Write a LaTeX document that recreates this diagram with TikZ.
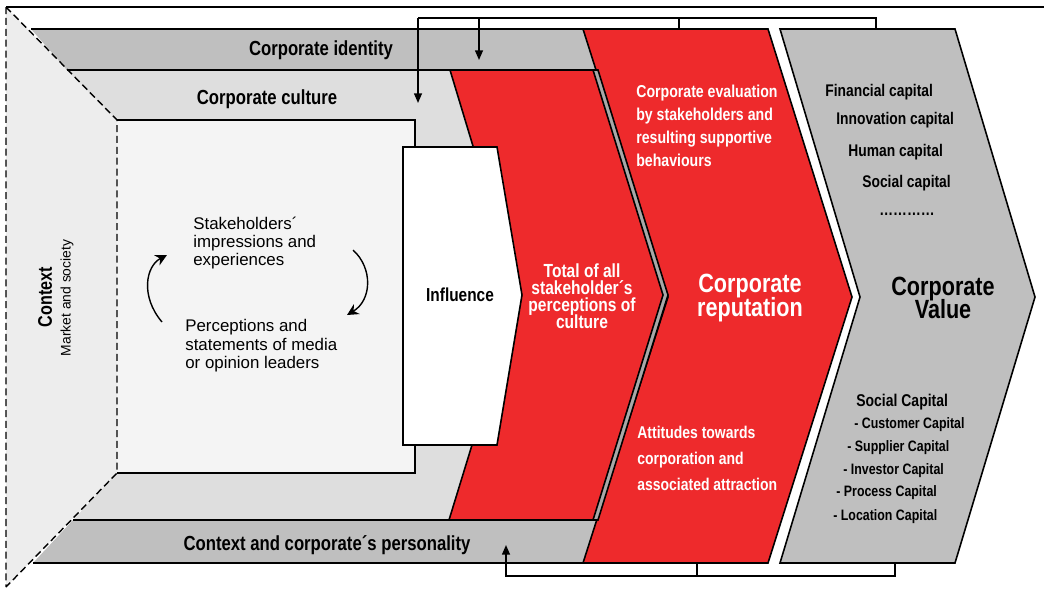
\documentclass[tikz,border=0pt]{standalone}
\usepackage{fontspec}
\setmainfont{Liberation Sans}
\newfontfamily\condfont[FakeStretch=0.82]{Liberation Sans}
\usetikzlibrary{arrows.meta}
\definecolor{repred}{HTML}{EE2A2C}
\definecolor{bandgray}{HTML}{BFBFBF}
\definecolor{cultgray}{HTML}{DEDEDE}
\definecolor{innergray}{HTML}{F4F4F4}
\definecolor{ctxgray}{HTML}{EDEDED}
\definecolor{slivergray}{HTML}{A8A8A8}
\newcommand{\tightlines}{\lineskiplimit=-20pt\relax}
\begin{document}
\begin{tikzpicture}[x=0.02cm,y=-0.02cm,
  edge/.style={line width=0.9pt},
  dashedge/.style={line width=0.8pt,dash pattern=on 4pt off 2.2pt},
  chev/.style={draw=black,line width=0.9pt,line join=miter},
  tip/.style={-{Triangle[length=5.5pt,width=4.5pt]}},
  cycarrow/.style={line width=0.8pt,-{Stealth[length=6.5pt,width=6.5pt]}},
  bandlabel/.style={inner sep=0,font=\condfont\bfseries\fontsize{11.6}{12}\selectfont},
  whitetxt/.style={inner sep=0,text=white,align=left,font=\condfont\bfseries\fontsize{9.8}{13.1}\selectfont},
  captxt/.style={inner sep=0,anchor=west,font=\condfont\bfseries\fontsize{9.6}{11}\selectfont},
  subcap/.style={inner sep=0,anchor=west,font=\condfont\bfseries\fontsize{8.6}{10}\selectfont},
  bigtxt/.style={inner sep=0,align=center,font=\condfont\bfseries\fontsize{15}{13.2}\selectfont\tightlines},
  plaintxt/.style={inner sep=0,anchor=west,align=left,font=\fontsize{9.6}{10.5}\selectfont}]
\useasboundingbox (0,0) rectangle (1044,589);
\pgfmathsetmacro{\ktop}{18}
\pgfmathsetmacro{\kbot}{576}
% context area and bands
\fill[ctxgray] (6,7) -- (117,120) -- (117,473) -- (6,587) -- cycle;
\fill[cultgray] (67,70) -- (600,70) -- (600,520) -- (73,520) -- (117,473) -- (117,120) -- cycle;
\fill[innergray] (117,120) rectangle (415,473);
\draw[edge] (117,120) -- (415,120) -- (415,473) -- (117,473);
\fill[bandgray] (31,29) -- (600,29) -- (600,70) -- (67,70) -- cycle;
\draw[edge] (31,29) -- (600,29) (67,70) -- (600,70);
\fill[bandgray] (73,520) -- (600,520) -- (600,563) -- (33,563) -- cycle;
\draw[edge] (73,520) -- (600,520) (33,563) -- (600,563);
\draw[edge] (6,7) -- (1044,7);
\draw[dashedge] (6,7) -- (6,587) (6,7) -- (117,120) -- (117,473) -- (6,587);
% chevrons
\draw[chev,fill=repred] (583,29) -- (768,29) -- (852,297) -- (768,563) -- (583,563) -- (668,297) -- cycle;
\draw[chev,fill=slivergray] (455,70) -- (598,70) -- (668,295) -- (598,520) -- (454,520) -- (523,295) -- cycle;
\draw[chev,fill=repred] (450,70) -- (593,70) -- (663,295) -- (593,520) -- (449,520) -- (518,295) -- cycle;
\draw[chev,fill=white] (403,147) -- (497,147) -- (522,295) -- (497,445) -- (403,445) -- cycle;
\draw[chev,fill=bandgray] (780,29) -- (955,29) -- (1035,297) -- (955,563) -- (780,563) -- (860,297) -- cycle;
% labels
\node[bandlabel] (ident) at (321,50) {Corporate identity};
\node[bandlabel] (cult) at (267,99) {Corporate culture};
\node[bandlabel] (pers) at (327,545) {Context and corporate´s personality};
\node[rotate=90,inner sep=0,font=\condfont\bfseries\fontsize{11.2}{12}\selectfont] (ctx) at (45,297) {Context};
\node[rotate=90,inner sep=0,font=\fontsize{7.9}{9}\selectfont] (market) at (67,298) {Market and society};
\node[plaintxt] (impr) at (193,243) {Stakeholders´\\impressions and\\experiences};
\node[plaintxt] (media) at (185,346) {Perceptions and\\statements of media\\or opinion leaders};
\draw[cycarrow] (162,322) .. controls (140,296) and (146,266) .. (167,255);
\draw[cycarrow] (353,250) .. controls (373,268) and (372,300) .. (347,315);
\node[inner sep=0,font=\condfont\bfseries\fontsize{10.7}{12}\selectfont] (infl) at (460,295) {Influence};
\node[whitetxt,align=center,font=\condfont\bfseries\fontsize{10.8}{9.7}\selectfont\tightlines] (total) at (582,296) {Total of all\\stakeholder´s\\perceptions of\\culture};
\node[whitetxt,anchor=west] (eval) at (636,126) {Corporate evaluation\\by stakeholders and\\resulting supportive\\behaviours};
\node[whitetxt,anchor=west,font=\condfont\bfseries\fontsize{9.7}{14.8}\selectfont] (attit) at (637,458) {Attitudes towards\\corporation and\\associated attraction};
\node[bigtxt,text=white] (repu) at (750,298) {Corporate\\reputation};
\node[bigtxt] (value) at (943,298) {Corporate\\Value};
\node[captxt] (fin) at (825,92) {Financial capital};
\node[captxt] (inno) at (836,120) {Innovation capital};
\node[captxt] (human) at (848,152) {Human capital};
\node[captxt] (social) at (862,183) {Social capital};
\node[captxt] (more) at (879,214) {…………};
\node[captxt,font=\condfont\bfseries\fontsize{9.7}{11}\selectfont] (soccap) at (856,402) {Social Capital};
\node[subcap] (cust) at (854,425) {- Customer Capital};
\node[subcap] (supp) at (847,448) {- Supplier Capital};
\node[subcap] (inv) at (843,471) {- Investor Capital};
\node[subcap] (proc) at (836,493) {- Process Capital};
\node[subcap] (loc) at (833,517) {- Location Capital};
% feedback connectors
\coordinate (fbL) at (418,\ktop);
\coordinate (fbR) at (876,\ktop);
\coordinate (valTop) at (876,29);
\coordinate (repTop) at (679,29);
\coordinate (cultIn) at (418,103);
\coordinate (identIn) at (479,60);
\draw[edge] (valTop) -- (fbR) -- (fbL);
\draw[edge] (repTop) -- (repTop |- fbL);
\draw[edge,tip] (fbL) -- (cultIn);
\draw[edge,tip] (identIn |- fbL) -- (identIn);
\coordinate (fbBL) at (506,\kbot);
\coordinate (fbBR) at (895,\kbot);
\coordinate (valBot) at (895,563);
\coordinate (repBot) at (697,563);
\coordinate (persIn) at (506,545);
\draw[edge] (repBot) -- (repBot |- fbBL);
\draw[edge,tip] (valBot) -- (fbBR) -- (fbBL) -- (persIn);
\end{tikzpicture}
\end{document}
